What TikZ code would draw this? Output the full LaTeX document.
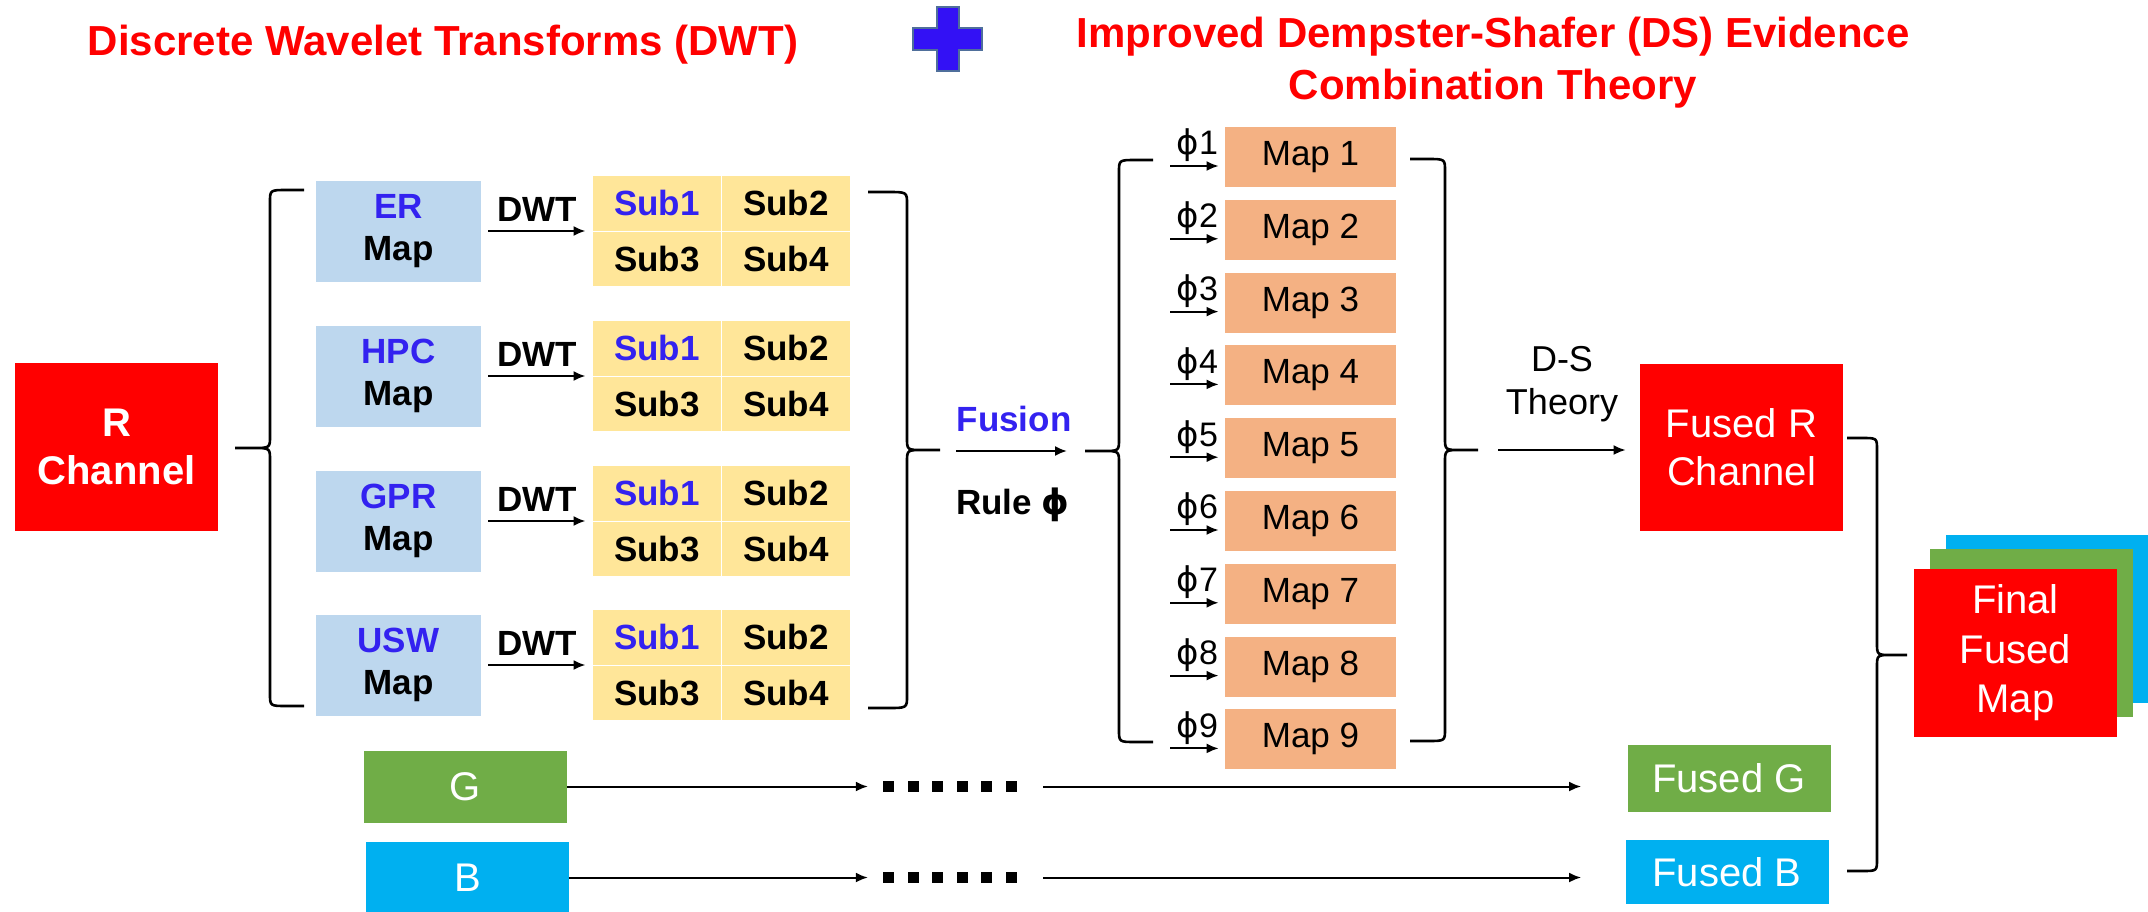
\documentclass[tikz,border=0pt]{standalone}
\usepackage{fontspec}
\setmainfont{Liberation Sans}
\newfontfamily\phifont{DejaVu Sans}
\usetikzlibrary{arrows.meta,calc,positioning}
\definecolor{mapblue}{HTML}{BDD7EE}
\definecolor{subyellow}{HTML}{FFE699}
\definecolor{mapsalmon}{HTML}{F4B183}
\definecolor{chgreen}{HTML}{70AD47}
\definecolor{chblue}{HTML}{00B0F0}
\definecolor{textblue}{HTML}{3322F0}
\definecolor{plusblue}{HTML}{3311F5}
\definecolor{plusedge}{HTML}{4F6F9B}
\tikzset{
  title/.style={text=red, font=\fontsize{21}{26}\selectfont\bfseries, align=center, inner sep=0pt},
  chanbox/.style={fill=red, text=white, minimum width=101.5pt, minimum height=84pt, align=center, inner sep=0pt},
  srcbox/.style={fill=mapblue, minimum width=82.5pt, minimum height=50.5pt, align=center, inner sep=0pt, font=\fontsize{17.5}{21.25}\selectfont\bfseries},
  subbox/.style={fill=subyellow, draw=white, line width=0.5pt, outer sep=0pt, minimum width=64.5pt, minimum height=27.75pt, inner sep=0pt, font=\fontsize{17.5}{21}\selectfont\bfseries},
  mapbox/.style={fill=mapsalmon, minimum width=85.5pt, minimum height=30pt, inner sep=0pt, font=\fontsize{17.5}{21}\selectfont},
  fusedbox/.style={text=white, minimum width=101.5pt, align=center, inner sep=0pt, font=\fontsize{20}{24}\selectfont},
  lbl/.style={inner sep=0pt, font=\fontsize{17.5}{21}\selectfont\bfseries},
  philbl/.style={inner sep=1.5pt, font=\fontsize{17}{20}\selectfont},
  arrow/.style={-{Latex[length=6pt,width=5pt]}, line width=1pt},
  bracepath/.style={line width=1.3pt}
}
% arms x, spine x, tip x, top y, tip y, bottom y
\newcommand{\drawbrace}[6]{%
  \draw[bracepath] (#1,#4) -- ({(#1+#2)/2},#4) .. controls (#2,#4) .. (#2,#4+12)
    -- (#2,#5-12) .. controls (#2,#5) .. ({(#2+#3)/2},#5) -- (#3,#5)
    -- ({(#2+#3)/2},#5) .. controls (#2,#5) .. (#2,#5+12)
    -- (#2,#6-12) .. controls (#2,#6) .. ({(#1+#2)/2},#6) -- (#1,#6);}
\newcommand{\dotrow}{\rule{5.5pt}{5.5pt}\hskip6.75pt\rule{5.5pt}{5.5pt}\hskip6.75pt\rule{5.5pt}{5.5pt}\hskip6.75pt\rule{5.5pt}{5.5pt}\hskip6.75pt\rule{5.5pt}{5.5pt}\hskip6.75pt\rule{5.5pt}{5.5pt}}
\newcommand{\phisym}{{\phifont ϕ}}

\begin{document}
\begin{tikzpicture}[x=0.5pt, y=-0.5pt]
  \path[use as bounding box, fill=white] (0,0) rectangle (2148,911);

  % titles
  \node[title, anchor=base] (dwt) at (443,55) {Discrete Wavelet Transforms (DWT)};
  \node[title] (dst) at (1493,63) {Improved Dempster-Shafer (DS) Evidence\\Combination Theory};
  \draw[fill=plusblue, draw=plusedge, line width=1.3pt] (937,7) -- (959,7) -- (959,28) -- (982,28) -- (982,50) -- (959,50)
    -- (959,71) -- (937,71) -- (937,50) -- (913,50) -- (913,28) -- (937,28) -- cycle;

  % R channel, its four maps and their sub-bands
  \node[chanbox, font=\fontsize{20}{24}\selectfont\bfseries] (rch) at (116.5,447) {R\\Channel};
  \foreach \n/\y in {ER/231, HPC/376, GPR/521, USW/665} {
    \node[srcbox] (\n) at (398.5,\y) {\textcolor{textblue}{\n}\\Map};
    \coordinate (\n c) at (721.5,\y);
    \node[subbox, anchor=south east, text=textblue] (\n1) at (\n c) {Sub1};
    \node[subbox, anchor=south west] (\n2) at (\n c) {Sub2};
    \node[subbox, anchor=north east] (\n3) at (\n c) {Sub3};
    \node[subbox, anchor=north west] (\n4) at (\n c) {Sub4};
    \draw[arrow, shorten <=3.5pt, shorten >=3.5pt] (\n.east) -- (\n.east -| \n1.west)
      node[midway, above, lbl, inner sep=4.5pt] {DWT};
  }
  \drawbrace{304}{270}{235}{190}{448}{706}
  \drawbrace{868}{907}{940}{192}{450}{708}

  % fusion rule
  \coordinate (fa) at (956,451);
  \coordinate (fb) at (1067,451);
  \draw[arrow] (fa) -- (fb);
  \node[lbl, text=textblue, anchor=base] (fusion) at (1014,431) {Fusion};
  \node[lbl, anchor=base] (rule) at (1013,514) {Rule \phisym};

  % nine fused maps
  \drawbrace{1153}{1119}{1085}{160}{451}{742}
  \foreach \i in {1,...,9} {
    \node[mapbox] (map\i) at (1310.5,{157+72.8*(\i-1)}) {Map \i};
    \coordinate (phi\i) at (1170,{166+72.8*(\i-1)});
    \draw[arrow, shorten >=3pt] (phi\i) -- (phi\i -| map\i.west)
      node[midway, above, philbl] {\phisym\i};
  }
  \drawbrace{1410}{1445}{1478}{159}{450}{741}

  % D-S theory
  \node[fusedbox, fill=red, minimum height=83.5pt] (fusedR) at (1741.5,447.5) {Fused R\\Channel};
  \coordinate (ds) at (1498,450);
  \draw[arrow, shorten >=7pt] (ds) -- (ds -| fusedR.west);
  \node[align=center, inner sep=0pt, font=\fontsize{18}{21.5}\selectfont] (dslbl) at (1562,384) {D-S\\Theory};

  % G and B channels
  \node[fusedbox, fill=chgreen, minimum height=36pt] (gch) at (465.5,786.5) {G};
  \node[fusedbox, fill=chblue, minimum height=36pt] (bch) at (467.5,877.5) {B};
  \node[inner sep=0pt] (gdots) at (950,786.5) {\dotrow};
  \node[inner sep=0pt] (bdots) at (950,877.5) {\dotrow};
  \node[fusedbox, fill=chgreen, minimum height=33.5pt] (fusedG) at (1729,778.5) {Fused G};
  \node[fusedbox, fill=chblue, minimum height=32pt] (fusedB) at (1727,872) {Fused B};
  \draw[arrow, shorten >=7.5pt] (gch) -- (gdots);
  \draw[arrow, shorten >=7.5pt] (bch) -- (bdots);
  \draw[arrow, shorten <=13pt, shorten >=23pt] (gdots.east) -- (gdots.east -| fusedG.west);
  \draw[arrow, shorten <=13pt, shorten >=22pt] (bdots.east) -- (bdots.east -| fusedB.west);

  % final fused map
  \drawbrace{1847}{1877}{1907}{438}{655}{871}
  \node[fusedbox, fill=chblue, minimum height=84pt] (finalB) at (2047.5,618.5) {};
  \node[fusedbox, fill=chgreen, minimum height=84pt] (finalG) at (2031.5,633) {};
  \node[fusedbox, fill=red, minimum height=84pt, font=\fontsize{20}{24.75}\selectfont] (final) at (2015.5,653) {Final\\Fused\\Map};
\end{tikzpicture}
\end{document}
